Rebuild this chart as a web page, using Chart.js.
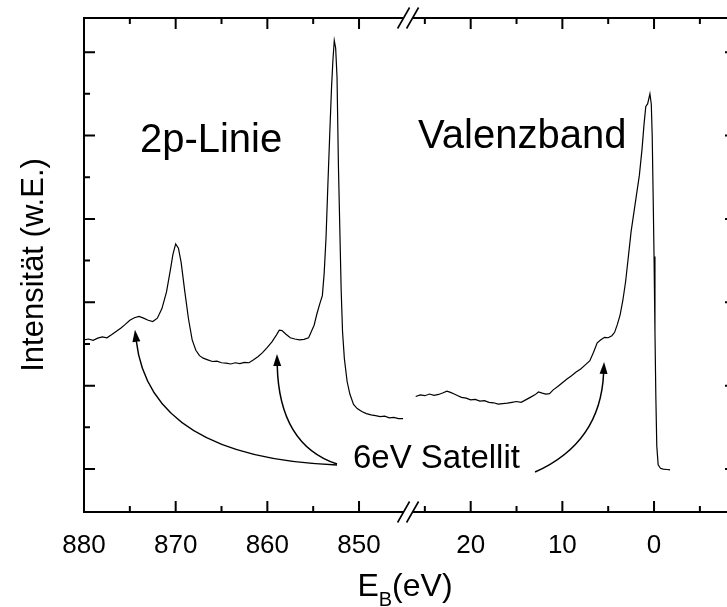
<!DOCTYPE html>
<html>
<head>
<meta charset="utf-8">
<script src="https://cdn.jsdelivr.net/npm/chart.js@4.4.1/dist/chart.umd.min.js"></script>
<style>
html, body { margin: 0; padding: 0; background: #fff; overflow: hidden; }
#wrap { width: 745px; height: 607px; }
</style>
</head>
<body>
<div id="wrap"><canvas id="xps-chart"></canvas></div>
<script>
// 2p-Linie: Bindungsenergie (eV) und Intensität (w.E.)
const coreEnergy = [880.0, 879.5, 879.0, 878.5, 878.0, 877.5, 877.0, 876.5, 876.0, 875.5,
    875.0, 874.5, 874.0, 873.5, 873.0, 872.5, 872.0, 871.5, 871.0, 870.6,
    870.3, 870.0, 869.7, 869.4, 869.0, 868.6, 868.2, 867.8, 867.4, 867.0,
    866.5, 866.0, 865.5, 865.0, 864.5, 864.0, 863.5, 863.0, 862.5, 862.0,
    861.5, 861.0, 860.5, 860.0, 859.5, 859.0, 858.7, 858.4, 858.0, 857.5,
    857.0, 856.5, 856.0, 855.5, 855.2, 854.9, 854.6, 854.3, 854.0, 853.8,
    853.6, 853.4, 853.2, 853.0, 852.85, 852.7, 852.55, 852.4, 852.25, 852.1,
    851.95, 851.8, 851.6, 851.3, 851.0, 850.6, 850.2, 849.7, 849.2, 848.7,
    848.2, 847.7, 847.2, 846.7, 846.2, 845.7, 845.2];
const coreIntensity = [4.10, 4.12, 4.09, 4.14, 4.17, 4.15, 4.22, 4.30, 4.38, 4.47,
    4.57, 4.63, 4.66, 4.62, 4.57, 4.54, 4.62, 4.85, 5.25, 5.75,
    6.15, 6.40, 6.30, 5.95, 5.25, 4.60, 4.10, 3.85, 3.72, 3.66,
    3.62, 3.58, 3.59, 3.55, 3.54, 3.52, 3.55, 3.53, 3.56, 3.55,
    3.62, 3.70, 3.80, 3.92, 4.05, 4.22, 4.33, 4.32, 4.24, 4.15,
    4.12, 4.10, 4.11, 4.15, 4.30, 4.45, 4.72, 4.95, 5.16, 5.70,
    6.55, 7.80, 9.00, 10.15, 10.80, 11.28, 11.10, 10.40, 8.30, 6.80,
    5.30, 4.30, 3.65, 3.10, 2.80, 2.55, 2.45, 2.38, 2.33, 2.30,
    2.28, 2.26, 2.27, 2.23, 2.24, 2.21, 2.21];

// Valenzband
const valEnergy = [26.0, 25.5, 25.0, 24.5, 24.0, 23.5, 23.0, 22.6, 22.2, 21.8,
    21.4, 21.0, 20.5, 20.0, 19.5, 19.0, 18.5, 18.0, 17.5, 17.0,
    16.5, 16.0, 15.5, 15.0, 14.5, 14.0, 13.5, 13.0, 12.6, 12.2,
    11.8, 11.4, 11.0, 10.5, 10.0, 9.5, 9.0, 8.5, 8.0, 7.5,
    7.0, 6.6, 6.2, 5.8, 5.4, 5.0, 4.6, 4.3, 4.0, 3.7,
    3.4, 3.1, 2.8, 2.5, 2.2, 1.9, 1.6, 1.3, 1.1, 0.9,
    0.7, 0.45, 0.3, 0.2, 0.1, 0.0, -0.1, -0.2, -0.3, -0.45,
    -0.7, -1.0, -1.4, -1.75];
const valIntensity = [2.74, 2.78, 2.76, 2.80, 2.77, 2.79, 2.83, 2.87, 2.84, 2.80,
    2.76, 2.72, 2.70, 2.66, 2.67, 2.63, 2.64, 2.60, 2.59, 2.56,
    2.57, 2.58, 2.60, 2.62, 2.60, 2.66, 2.72, 2.78, 2.85, 2.82,
    2.80, 2.81, 2.90, 2.98, 3.07, 3.16, 3.24, 3.33, 3.40, 3.50,
    3.60, 3.80, 4.03, 4.10, 4.16, 4.15, 4.20, 4.28, 4.47, 4.70,
    5.05, 5.50, 6.10, 6.70, 7.15, 7.60, 8.05, 8.70, 9.25, 9.70,
    9.76, 10.00, 9.75, 9.00, 7.60, 6.10, 4.30, 2.70, 1.55, 1.10,
    1.02, 1.00, 0.99, 0.98];

// Achsenteilung (eV) links und rechts vom Bruch, y-Teilstriche
const coreTicks = [880, 875, 870, 865, 860, 855, 850];
const valTicks = [25, 20, 15, 10, 5, 0, -5];
const intensityTicks = [1, 2, 3, 4, 5, 6, 7, 8, 9, 10, 11];

// gebrochene x-Achse: gemeinsame Laufkoordinate
const coreStart = 880;
const breakPos = 35.35;
const valZero = 62.18;
const axisEnd = 71.12;

function toAxis(e) {
    return e > 400 ? coreStart - e : valZero - e;
}
function fromAxis(u) {
    return u <= breakPos ? coreStart - u : valZero - u;
}

// Beschriftungen und Pfeile (Energie, Intensität)
const notes = [
    { text: '2p-Linie', e: 873.9, y: 8.60, size: 40 },
    { text: 'Valenzband', e: 25.74, y: 8.70, size: 40 },
    { text: '6eV Satellit', e: 850.66, y: 1.03, size: 33 }
];
const arrows = [
    { from: [852.4, 1.10], ctrl: [872.8, 1.27], to: [874.44, 4.34] },
    { from: [852.4, 1.12], ctrl: [858.73, 1.58], to: [858.95, 3.76] },
    { from: [12.98, 0.93], ctrl: [5.83, 1.63], to: [5.45, 3.57] }
];

const fontFamily = '"Liberation Sans", Arial, sans-serif';

const framePlugin = {
    id: 'frame',
    afterDraw(chart) {
        const ctx = chart.ctx;
        const xs = chart.scales.x;
        const ys = chart.scales.y;
        const area = chart.chartArea;
        const L = area.left, R = xs.getPixelForValue(axisEnd);
        const T = area.top, B = area.bottom;
        const bx = xs.getPixelForValue(breakPos);

        ctx.save();
        ctx.strokeStyle = '#000';
        ctx.fillStyle = '#000';
        ctx.lineWidth = 2;
        ctx.lineCap = 'butt';

        // Rahmen mit Achsenbruch
        ctx.beginPath();
        ctx.moveTo(L, T); ctx.lineTo(L, B);
        ctx.moveTo(R, T); ctx.lineTo(R, B);
        [T, B].forEach(yy => {
            ctx.moveTo(L - 1, yy); ctx.lineTo(bx - 4.5, yy);
            ctx.moveTo(bx + 4.5, yy); ctx.lineTo(R + 1, yy);
        });
        ctx.stroke();

        ctx.lineWidth = 1.6;
        ctx.beginPath();
        [T, B].forEach(yy => {
            [-4.5, 4.5].forEach(off => {
                ctx.moveTo(bx + off - 6, yy + 10.5);
                ctx.lineTo(bx + off + 6, yy - 10.5);
            });
        });
        ctx.stroke();

        // Teilstriche nach innen
        ctx.lineWidth = 2;
        ctx.beginPath();
        coreTicks.concat(valTicks).forEach(e => {
            const px = xs.getPixelForValue(toAxis(e));
            const len = e % 10 === 0 ? 11 : 6;
            ctx.moveTo(px, B); ctx.lineTo(px, B - len);
            ctx.moveTo(px, T); ctx.lineTo(px, T + len);
        });
        intensityTicks.forEach(v => {
            const py = ys.getPixelForValue(v);
            const len = v % 2 === 1 ? 11 : 6;
            ctx.moveTo(L, py); ctx.lineTo(L + len, py);
            ctx.moveTo(R, py); ctx.lineTo(R - len, py);
        });
        ctx.stroke();

        // Achsentitel
        ctx.textBaseline = 'alphabetic';
        ctx.save();
        ctx.translate(43, (T + B) / 2);
        ctx.rotate(-Math.PI / 2);
        ctx.textAlign = 'center';
        ctx.font = '31px ' + fontFamily;
        ctx.fillText('Intensität (w.E.)', 0, 0);
        ctx.restore();

        ctx.textAlign = 'left';
        ctx.font = '32px ' + fontFamily;
        const wE = ctx.measureText('E').width;
        const wP = ctx.measureText('(eV)').width;
        ctx.font = '20px ' + fontFamily;
        const wB = ctx.measureText('B').width;
        let tx = 405 - (wE + wB + wP) / 2;
        ctx.font = '32px ' + fontFamily;
        ctx.fillText('E', tx, 596);
        ctx.font = '20px ' + fontFamily;
        ctx.fillText('B', tx + wE, 606);
        ctx.font = '32px ' + fontFamily;
        ctx.fillText('(eV)', tx + wE + wB, 596);

        // Texte im Diagramm
        notes.forEach(n => {
            ctx.font = n.size + 'px ' + fontFamily;
            ctx.fillText(n.text, xs.getPixelForValue(toAxis(n.e)), ys.getPixelForValue(n.y));
        });

        // gebogene Pfeile
        ctx.lineWidth = 1.5;
        arrows.forEach(a => {
            const p0 = [xs.getPixelForValue(toAxis(a.from[0])), ys.getPixelForValue(a.from[1])];
            const c = [xs.getPixelForValue(toAxis(a.ctrl[0])), ys.getPixelForValue(a.ctrl[1])];
            const p2 = [xs.getPixelForValue(toAxis(a.to[0])), ys.getPixelForValue(a.to[1])];
            const dx = p2[0] - c[0], dy = p2[1] - c[1];
            const d = Math.hypot(dx, dy);
            const ux = dx / d, uy = dy / d;
            const headLen = 12, headW = 4;
            const base = [p2[0] - ux * headLen, p2[1] - uy * headLen];
            ctx.beginPath();
            ctx.moveTo(p0[0], p0[1]);
            ctx.quadraticCurveTo(c[0], c[1], base[0] + ux, base[1] + uy);
            ctx.stroke();
            ctx.beginPath();
            ctx.moveTo(p2[0], p2[1]);
            ctx.lineTo(base[0] - uy * headW, base[1] + ux * headW);
            ctx.lineTo(base[0] + uy * headW, base[1] - ux * headW);
            ctx.closePath();
            ctx.fill();
        });

        ctx.restore();
    }
};

const spectrumData = {
    datasets: [{
        label: '2p-Linie',
        data: coreEnergy.map((e, i) => ({ x: toAxis(e), y: coreIntensity[i] })),
        borderColor: '#000',
        borderWidth: 1.2,
        pointRadius: 0,
        fill: false,
        tension: 0
    }, {
        label: 'Valenzband',
        data: valEnergy.map((e, i) => ({ x: toAxis(e), y: valIntensity[i] })),
        borderColor: '#000',
        borderWidth: 1.2,
        pointRadius: 0,
        fill: false,
        tension: 0
    }]
};

const spectrumConfig = {
    type: 'line',
    data: spectrumData,
    options: {
        responsive: true,
        maintainAspectRatio: false,
        animation: false,
        layout: { padding: { left: 84, right: 9, top: 18, bottom: 0 } },
        plugins: {
            legend: { display: false },
            tooltip: { enabled: false }
        },
        scales: {
            x: {
                type: 'linear',
                min: 0,
                max: axisEnd,
                grid: { display: false },
                border: { display: false },
                afterBuildTicks: s => {
                    s.ticks = coreTicks.concat(valTicks)
                        .filter(e => e % 10 === 0)
                        .map(e => ({ value: toAxis(e) }));
                },
                afterFit: s => { s.height = 95; },
                ticks: {
                    autoSkip: false,
                    maxRotation: 0,
                    padding: 10,
                    color: '#000',
                    font: { family: fontFamily, size: 26 },
                    callback: v => String(Math.round(fromAxis(v)))
                }
            },
            y: {
                min: -0.03,
                max: 11.82,
                grid: { display: false },
                border: { display: false },
                ticks: { display: false },
                afterFit: s => { s.width = 0; }
            }
        }
    },
    plugins: [framePlugin]
};

new Chart(document.getElementById('xps-chart'), spectrumConfig);
</script>
</body>
</html>
